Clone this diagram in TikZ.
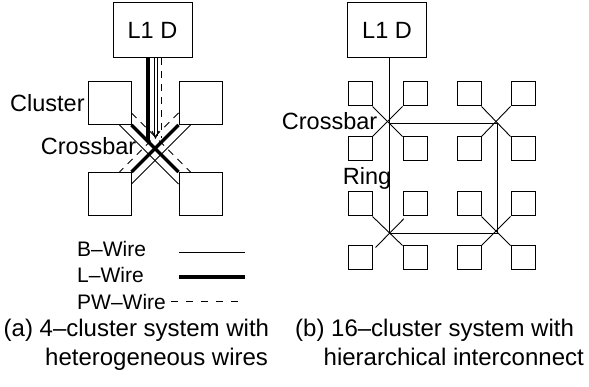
\documentclass[tikz,border=0pt]{standalone}
\usepackage{fontspec}
\setmainfont{Liberation Sans}
\usetikzlibrary{arrows.meta,calc}
\begin{document}
\begin{tikzpicture}[x=1pt,y=-1pt,
  lbl/.style={inner sep=0pt, anchor=base west, font=\fontsize{23.5}{28}\selectfont},
  leg/.style={inner sep=0pt, anchor=base west, font=\fontsize{21}{25}\selectfont},
  capt/.style={inner sep=0pt, anchor=base west, font=\fontsize{24}{29}\selectfont},
  cl/.style={draw, line width=1pt, inner sep=0pt, minimum size=43pt},
  scl/.style={draw, line width=1pt, inner sep=0pt, minimum size=24pt},
  cache/.style={draw, line width=1pt, inner sep=0pt, minimum width=79pt, minimum height=55pt, font=\fontsize{23.5}{28}\selectfont},
  bw/.style={line width=0.9pt},
  lw/.style={line width=3.5pt},
  pw/.style={line width=0.9pt, dash pattern=on 7pt off 6pt},
  pwl/.style={line width=0.9pt, dash pattern=on 7pt off 8pt}
]
\fill[white] (0,0) rectangle (589,387);
\useasboundingbox (0,0) rectangle (589,387);

% ---------- (a) ----------
\node[cache] (L1a) at (152.5,30.5) {L1 D};
\node[cl] (tl) at (109.5,103) {};
\node[cl] (tr) at (200.5,103) {};
\node[cl] (bl) at (109.5,194) {};
\node[cl] (br) at (200.5,194) {};

% B-wires (thin)
\draw[bw] ($(tl.south east)+(-12,0)$) -- ($(br.north west)+(0,12)$);
\draw[bw] ($(tr.south west)+(12,0)$) -- ($(bl.north east)+(0,12)$);
% PW-wires (dashed)
\draw[pw] ($(tl.south east)+(0,-12)$) -- ($(br.north west)+(12,0)$);
\draw[pw] ($(tr.south west)+(0,-12)$) -- ($(bl.north east)+(-12,0)$);
% L-wires (thick)
\draw[lw] (tl.south east) -- (br.north west);
\draw[lw] (tr.south west) -- (bl.north east);

% vertical wires from L1
\coordinate (va) at (148,142);
\draw[lw] (L1a.south -| va) -- (va);
\coordinate (ba) at (155.5,138);
\draw[bw] ($(L1a.south)+(1.5,0)$) -- ($(L1a.south)+(1.5,78)$);
\draw[bw] ($(L1a.south)+(4.5,0)$) -- ($(L1a.south)+(4.5,78)$);
\draw[bw] ($(ba)+(-3.5,-7)$) -- (ba) -- ($(ba)+(3.5,-7)$);
\draw[pw] ($(L1a.south)+(8.5,0)$) -- ($(L1a.south)+(8.5,80)$);

\node[lbl] (clu) at (10,112) {Cluster};
\node[lbl] (xla) at (40.7,154.3) {Crossbar};

% legend
\node[leg] (tB) at (77,257) {B–Wire};
\node[leg] (tL) at (77,283) {L–Wire};
\node[leg] (tP) at (77,309) {PW–Wire};
\coordinate (lB0) at (179,252); \coordinate (lB1) at (245,252);
\coordinate (lL0) at (179,277); \coordinate (lL1) at (245,277);
\coordinate (lP0) at (171,301); \coordinate (lP1) at (245,301);
\draw[bw] (lB0) -- (lB1);
\draw[lw] (lL0) -- (lL1);
\draw[pwl] (lP0) -- (lP1);

% captions
\node[capt] (capa1) at (3.5,337) {(a) 4–cluster system with};
\node[capt] (capa2) at (45,365) {heterogeneous wires};
\node[capt] (capb1) at (295,337) {(b) 16–cluster system with};
\node[capt] (capb2) at (323.5,365) {hierarchical interconnect};

% ---------- (b) ----------
\node[cache] (L1b) at (387,30.5) {L1 D};
\foreach \c/\x in {1/360,2/415,3/469,4/523}
  \foreach \r/\y in {1/94,2/149,3/204,4/258}
    \node[scl] (s\r\c) at (\x,\y) {};

% crossbars
\draw[bw] (s11.south east) -- (s22.north west);
\draw[bw] (s12.south west) -- (s21.north east);
\draw[bw] (s13.south east) -- (s24.north west);
\draw[bw] (s14.south west) -- (s23.north east);
\draw[bw] (s31.south east) -- (s42.north west);
\draw[bw] ($(s41.north east)+(3,2)$) -- ($(s32.south west)+(1.3,2.3)$);
\draw[bw] (s33.south east) -- (s44.north west);
\draw[bw] (s34.south west) -- (s43.north east);

% ring
\coordinate (r1) at (389,123.5);
\coordinate (r2) at (497.5,123.5);
\coordinate (r3) at (497.5,233);
\coordinate (r4) at (389,233);
\draw[bw] (L1b.south -| r1) -- (r4);
\draw[bw] (r1) -- (r2) -- (r3) -- (r4);

\node[lbl] (xlb) at (281.7,130) {Crossbar};
\node[lbl] (ring) at (342.7,185) {Ring};
\end{tikzpicture}
\end{document}
